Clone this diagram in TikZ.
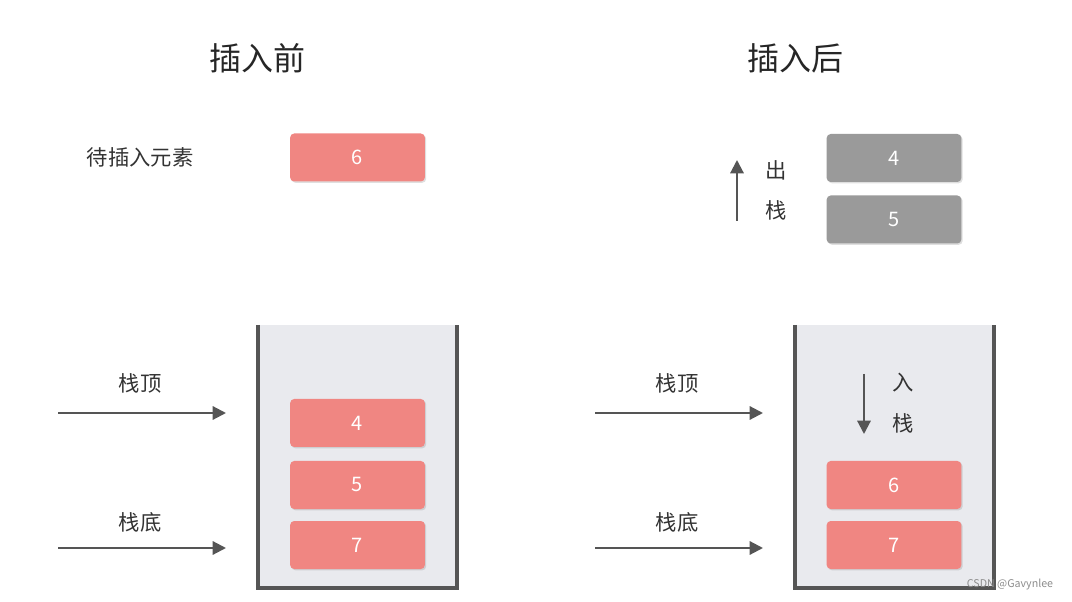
\documentclass[tikz,border=0pt]{standalone}
\usepackage{fontspec}
\setmainfont{Noto Sans CJK SC}
\usetikzlibrary{arrows.meta,shadows}
\definecolor{boxred}{HTML}{F08682}
\definecolor{boxgray}{HTML}{9A9A9A}
\definecolor{wallgray}{HTML}{555555}
\definecolor{stackbg}{HTML}{E9EAEE}
\tikzset{
  elem/.style={rounded corners=3pt, minimum width=101pt, minimum height=36pt,
    text=white, font=\fontsize{15}{18}\selectfont, drop shadow={opacity=0.25,shadow xshift=1pt,shadow yshift=-1pt}},
  redelem/.style={elem, fill=boxred},
  grayelem/.style={elem, fill=boxgray},
  pointer/.style={-{Triangle[length=10pt,width=10pt]}, line width=1.6pt, draw=wallgray},
  lbl/.style={font=\fontsize{16}{19}\selectfont, text=black!80},
  title/.style={font=\fontsize{24}{28}\selectfont, text=black!85},
  wall/.style={line width=3pt, draw=wallgray}
}
\begin{document}
\begin{tikzpicture}[x=0.75pt,y=-0.75pt]
\useasboundingbox (0,0) rectangle (1072,602);
% titles
\node[title] (tbefore) at (257,58) {插入前};
\node[title] (tafter) at (795,58) {插入后};
% before
\node[lbl] (waiting) at (140,157) {待插入元素};
\node[redelem] (new6) at (357.5,157.5) {6};
\fill[stackbg] (258,325) rectangle (457,588);
\draw[wall] (258,325) -- (258,588) -- (457,588) -- (457,325);
\node[redelem] (l4) at (357.5,423) {4};
\node[redelem] (l5) at (357.5,485) {5};
\node[redelem] (l7) at (357.5,545) {7};
\node[lbl] (ltop) at (140,383) {栈顶};
\node[lbl] (lbot) at (140,522) {栈底};
\coordinate (ltopa) at (58,413); \coordinate (ltopb) at (226,413);
\coordinate (lbota) at (58,548); \coordinate (lbotb) at (226,548);
\draw[pointer] (ltopa) -- (ltopb);
\draw[pointer] (lbota) -- (lbotb);
% after
\node[grayelem] (g4) at (894,158) {4};
\node[grayelem] (g5) at (894,219.5) {5};
\coordinate (popa) at (737,221); \coordinate (popb) at (737,160);
\draw[pointer] (popa) -- (popb);
\node[lbl] (pop1) at (776,170) {出};
\node[lbl] (pop2) at (776,210) {栈};
\fill[stackbg] (795,325) rectangle (994,588);
\draw[wall] (795,325) -- (795,588) -- (994,588) -- (994,325);
\node[redelem] (r6) at (894,485) {6};
\node[redelem] (r7) at (894,545) {7};
\coordinate (pusha) at (864,374); \coordinate (pushb) at (864,434);
\draw[pointer] (pusha) -- (pushb);
\node[lbl] (push1) at (903,383) {入};
\node[lbl] (push2) at (903,423) {栈};
\node[lbl] (rtop) at (677,383) {栈顶};
\node[lbl] (rbot) at (677,522) {栈底};
\coordinate (rtopa) at (595,413); \coordinate (rtopb) at (763,413);
\coordinate (rbota) at (595,548); \coordinate (rbotb) at (763,548);
\draw[pointer] (rtopa) -- (rtopb);
\draw[pointer] (rbota) -- (rbotb);
\node[font=\fontsize{8}{10}\selectfont, text=black!45] (mark) at (1010,585) {CSDN @Gavynlee};
\end{tikzpicture}
\end{document}
